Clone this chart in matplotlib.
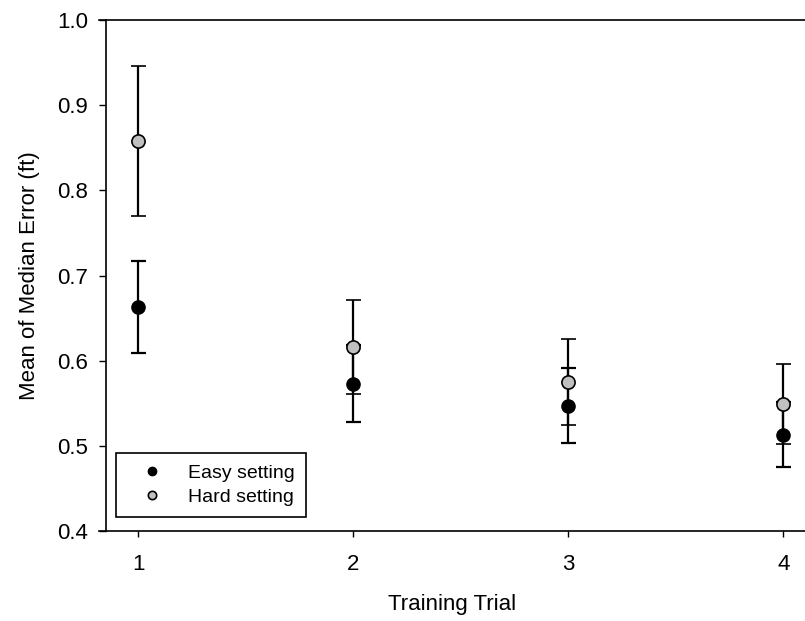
import numpy as np
import matplotlib.pyplot as plt
from matplotlib.lines import Line2D

plt.rcParams['font.family'] = ['Liberation Sans', 'DejaVu Sans']

trials = [1, 2, 3, 4]
easy_mean = [0.663, 0.573, 0.547, 0.513]
easy_err = [0.054, 0.045, 0.044, 0.038]
hard_mean = [0.858, 0.616, 0.575, 0.549]
hard_err = [0.088, 0.055, 0.051, 0.047]

fig = plt.figure(figsize=(8.05, 6.21), dpi=100)
ax = fig.add_axes([99 / 805, 90 / 621, 706 / 805, 511 / 621])

ax.errorbar(trials, easy_mean, yerr=easy_err, fmt='o', color='black',
	markersize=9.5, markerfacecolor='black', markeredgecolor='black',
	elinewidth=1.6, capsize=5.4, capthick=1.6, zorder=2)
ax.errorbar(trials, hard_mean, yerr=hard_err, fmt='o', color='black',
	markersize=9.5, markerfacecolor='#c0c0c0', markeredgecolor='black',
	markeredgewidth=1.2, elinewidth=1.6, capsize=5.4, capthick=1.6, zorder=3)

ax.set_xlim(0.817, 4.1)
ax.set_ylim(0.4, 1.0)
ax.set_xticks(trials)
ax.set_yticks(np.arange(0.4, 1.01, 0.1))
ax.set_yticklabels(['%.1f' % v for v in np.arange(0.4, 1.01, 0.1)])

ax.spines['right'].set_visible(False)
ax.spines['left'].set_position(('data', 0.85))
for s in ['left', 'top', 'bottom']:
	ax.spines[s].set_linewidth(1.2)

ax.tick_params(axis='x', direction='out', length=4.5, width=1.0,
	labelsize=16, pad=12, top=False)
ax.tick_params(axis='y', direction='out', length=5, width=1.0,
	labelsize=16, pad=8, right=False)

ax.set_xlabel('Training Trial', fontsize=16, labelpad=14)
ax.set_ylabel('Mean of Median Error (ft)', fontsize=16, labelpad=12)

handles = [
	Line2D([], [], marker='o', linestyle='none', markersize=6,
		markerfacecolor='black', markeredgecolor='black'),
	Line2D([], [], marker='o', linestyle='none', markersize=6,
		markerfacecolor='#c0c0c0', markeredgecolor='black', markeredgewidth=1.2),
]
leg = ax.legend(handles, ['Easy setting', 'Hard setting'], loc='lower left',
	bbox_to_anchor=(0.024, 0.027), borderaxespad=0, fontsize=14,
	frameon=True, fancybox=False, edgecolor='black', framealpha=1,
	handlelength=2.5, handletextpad=0.6, borderpad=0.6, labelspacing=0.3)
leg.get_frame().set_linewidth(1.2)

plt.savefig('out.png', dpi=100)
